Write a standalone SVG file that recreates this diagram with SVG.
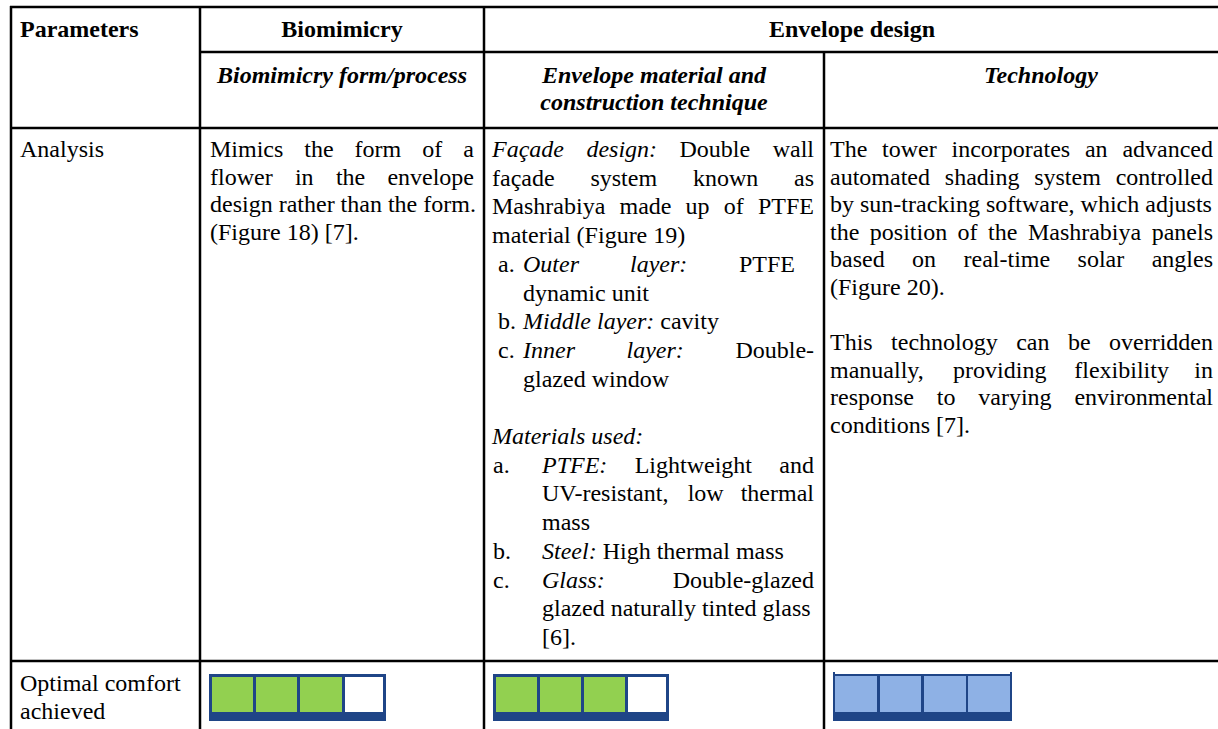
<svg xmlns="http://www.w3.org/2000/svg" width="1218" height="729" viewBox="0 0 1218 729">
<style>
.t{font-family:"Liberation Serif","Times New Roman",serif;font-size:24px;fill:#000}
.i{font-style:italic}
.b{font-weight:bold}
.m{text-anchor:middle}
.ln{stroke:#000;stroke-width:2.5;fill:none}
.frame{fill:#1F4587}
.g{fill:#92D050}
.w{fill:#FFFFFF}
.lb{fill:#8EB1E5}
</style>
<rect width="1218" height="729" fill="#fff"/>
<g id="grid">
<line class="ln" x1="10" y1="7" x2="1218" y2="7"/>
<line class="ln" x1="200" y1="52" x2="1218" y2="52"/>
<line class="ln" x1="10" y1="128" x2="1218" y2="128"/>
<line class="ln" x1="10" y1="661" x2="1218" y2="661"/>
<line class="ln" x1="11" y1="6" x2="11" y2="729"/>
<line class="ln" x1="200" y1="6" x2="200" y2="729"/>
<line class="ln" x1="484" y1="6" x2="484" y2="729"/>
<line class="ln" x1="824" y1="52" x2="824" y2="729"/>
</g>
<g id="header-parameters"><text class="t b" x="20" y="37">Parameters</text></g>
<g id="header-biomimicry"><text class="t b m" x="342" y="37">Biomimicry</text></g>
<g id="header-envelope"><text class="t b m" x="852" y="37">Envelope design</text></g>
<g id="sub-form"><text class="t b i m" x="342" y="83">Biomimicry form/process</text></g>
<g id="sub-material"><text class="t b i m" x="654" y="83">Envelope material and</text><text class="t b i m" x="654" y="110">construction technique</text></g>
<g id="sub-tech"><text class="t b i m" x="1041" y="83">Technology</text></g>
<g id="row-analysis"><text class="t" x="20" y="157">Analysis</text></g>
<g id="cell-biomimicry">
<text class="t" y="157"><tspan x="210">Mimics</tspan><tspan x="304.3">the</tspan><tspan x="354.6">form</tspan><tspan x="422.3">of</tspan><tspan x="463.3">a</tspan></text>
<text class="t" y="184.6"><tspan x="210">flower</tspan><tspan x="294.9">in</tspan><tspan x="335.9">the</tspan><tspan x="387.4">envelope</tspan></text>
<text class="t" x="210" y="212.2">design rather than the form.</text>
<text class="t" x="210" y="239.8">(Figure 18) [7].</text>
</g>
<g id="cell-envelope">
<text class="t" y="157"><tspan class="i" x="492">Façade</tspan><tspan class="i" x="586.4">design:</tspan><tspan x="679.5">Double</tspan><tspan x="772.7">wall</tspan></text>
<text class="t" y="185.7"><tspan x="492">façade</tspan><tspan x="590.4">system</tspan><tspan x="692.9">known</tspan><tspan x="794">as</tspan></text>
<text class="t" y="214.4"><tspan x="492">Mashrabiya</tspan><tspan x="619.5">made</tspan><tspan x="685.6">up</tspan><tspan x="723.8">of</tspan><tspan x="758">PTFE</tspan></text>
<text class="t" x="492" y="243.1">material (Figure 19)</text>
<text class="t" y="271.8"><tspan x="498">a.</tspan><tspan class="i" x="523">Outer</tspan><tspan class="i" x="630">layer:</tspan><tspan x="739">PTFE</tspan></text>
<text class="t" x="523" y="300.5">dynamic unit</text>
<text class="t" y="329.2"><tspan x="498">b.</tspan><tspan class="i" x="523">Middle layer:</tspan><tspan> cavity</tspan></text>
<text class="t" y="357.9"><tspan x="498">c.</tspan><tspan class="i" x="523">Inner</tspan><tspan class="i" x="626.5">layer:</tspan><tspan x="735.4">Double-</tspan></text>
<text class="t" x="523" y="386.6">glazed window</text>
<text class="t i" x="492" y="444">Materials used:</text>
<text class="t" y="472.7"><tspan x="493">a.</tspan><tspan class="i" x="542">PTFE:</tspan><tspan x="634.7">Lightweight</tspan><tspan x="779.3">and</tspan></text>
<text class="t" y="501.4"><tspan x="542">UV-resistant,</tspan><tspan x="687.7">low</tspan><tspan x="740.7">thermal</tspan></text>
<text class="t" x="542" y="530.1">mass</text>
<text class="t" y="558.8"><tspan x="493">b.</tspan><tspan class="i" x="542">Steel:</tspan><tspan> High thermal mass</tspan></text>
<text class="t" y="587.5"><tspan x="493">c.</tspan><tspan class="i" x="542">Glass:</tspan><tspan x="672.7">Double-glazed</tspan></text>
<text class="t" x="542" y="616.2">glazed naturally tinted glass</text>
<text class="t" x="542" y="644.9">[6].</text>
</g>
<g id="cell-technology">
<text class="t" y="157"><tspan x="830">The</tspan><tspan x="882.1">tower</tspan><tspan x="951.5">incorporates</tspan><tspan x="1084.9">an</tspan><tspan x="1122.4">advanced</tspan></text>
<text class="t" y="184.6"><tspan x="830">automated</tspan><tspan x="944.8">shading</tspan><tspan x="1034.2">system</tspan><tspan x="1115.7">controlled</tspan></text>
<text class="t" x="830" y="212.2">by sun-tracking software, which adjusts</text>
<text class="t" y="239.8"><tspan x="830">the</tspan><tspan x="869.8">position</tspan><tspan x="957.6">of</tspan><tspan x="988.1">the</tspan><tspan x="1027.9">Mashrabiya</tspan><tspan x="1151.7">panels</tspan></text>
<text class="t" y="267.4"><tspan x="830">based</tspan><tspan x="912.1">on</tspan><tspan x="963.5">real-time</tspan><tspan x="1077.6">solar</tspan><tspan x="1151.7">angles</tspan></text>
<text class="t" x="830" y="295">(Figure 20).</text>
<text class="t" y="350.2"><tspan x="830">This</tspan><tspan x="891.1">technology</tspan><tspan x="1016.2">can</tspan><tspan x="1067.9">be</tspan><tspan x="1109">overridden</tspan></text>
<text class="t" y="377.8"><tspan x="830">manually,</tspan><tspan x="953.1">providing</tspan><tspan x="1074.3">flexibility</tspan><tspan x="1194.3">in</tspan></text>
<text class="t" y="405.4"><tspan x="830">response</tspan><tspan x="936.8">to</tspan><tspan x="978.3">varying</tspan><tspan x="1074.4">environmental</tspan></text>
<text class="t" x="830" y="433">conditions [7].</text>
</g>
<g id="row-comfort"><text class="t" x="20" y="691">Optimal comfort</text><text class="t" x="20" y="718.6">achieved</text></g>
<g id="bar-biomimicry">
<rect class="frame" x="209" y="674" width="177" height="47"/>
<rect class="g" x="212" y="677" width="41" height="35"/>
<rect class="g" x="256" y="677" width="41" height="35"/>
<rect class="g" x="300" y="677" width="42" height="35"/>
<rect class="w" x="345" y="677" width="38" height="35"/>
</g>
<g id="bar-envelope">
<rect class="frame" x="493" y="674" width="176" height="47"/>
<rect class="g" x="496" y="677" width="41" height="35"/>
<rect class="g" x="540" y="677" width="41" height="35"/>
<rect class="g" x="584" y="677" width="41" height="35"/>
<rect class="w" x="628" y="677" width="38" height="35"/>
</g>
<g id="bar-technology">
<rect class="frame" x="833" y="674" width="179" height="47"/>
<rect class="frame" x="833" y="672" width="2" height="4"/>
<rect class="frame" x="1010" y="672" width="2" height="4"/>
<rect class="lb" x="835" y="676" width="42" height="36"/>
<rect class="lb" x="880" y="676" width="41" height="36"/>
<rect class="lb" x="924" y="676" width="42" height="36"/>
<rect class="lb" x="968" y="676" width="42" height="36"/>
</g>
</svg>
